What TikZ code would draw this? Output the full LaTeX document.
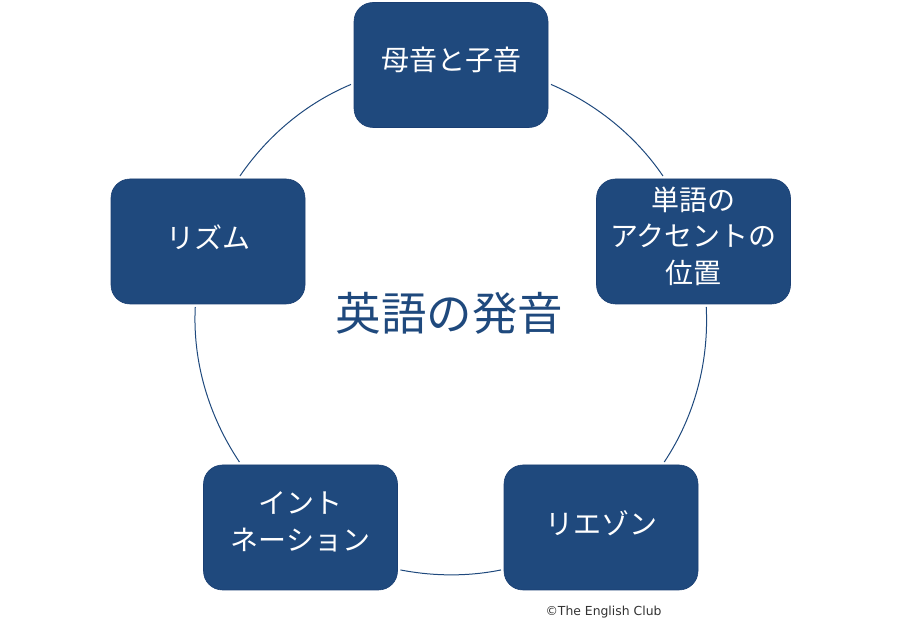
\documentclass[tikz,border=0pt]{standalone}
\usepackage{fontspec}
\setmainfont{Noto Sans CJK JP}
\newfontfamily\creditfont{DejaVu Sans}
\definecolor{topicblue}{HTML}{1F497D}
\definecolor{edgeblue}{HTML}{1A3F73}
\tikzset{
	topic/.style={draw=edgeblue, fill=topicblue, text=white, rounded corners=19pt, line width=0.6pt, minimum width=194pt, minimum height=125pt, inner sep=0pt, outer sep=3pt, align=center, text depth=13pt, font=\fontsize{28}{36.5}\selectfont},
	ring/.style={draw=topicblue, line width=1pt}
}
\begin{document}
\begin{tikzpicture}[x=1pt, y=1pt]
	\useasboundingbox (0,0) rectangle (900,628);
	\node[topic] (vowel) at (451,563) {母音と子音};
	\node[topic] (accent) at (693.5,386.5) {単語の\\アクセントの\\位置};
	\node[topic, text depth=9pt] (liaison) at (601,100.5) {リエゾン};
	\node[topic] (inton) at (300.5,100.5) {イント\\ネーション};
	\node[topic, text depth=9pt] (rhythm) at (208,386.5) {リズム};
	\node[text=topicblue, font=\fontsize{45.5}{54}\selectfont] (title) at (449.5,314.5) {英語の発音};
	\node[font=\creditfont\fontsize{12.4}{14}\selectfont, text=black!80] (credit) at (603.5,16) {©The English Club};
	\draw[ring] (vowel.-11.3) to[out=-23.3, in=124.2, distance=48.8pt] (accent.115.7);
	\draw[ring] (accent.-79.2) to[out=-87.1, in=56.3, distance=55pt] (liaison.46.6);
	\draw[ring] (liaison.203.5) to[out=-168.5, in=-11, distance=33.6pt] (inton.-23.4);
	\draw[ring] (inton.133.7) to[out=123.8, in=267.1, distance=55pt] (rhythm.-101.2);
	\draw[ring] (rhythm.64) to[out=55.6, in=202.8, distance=49pt] (vowel.191.3);
\end{tikzpicture}
\end{document}
